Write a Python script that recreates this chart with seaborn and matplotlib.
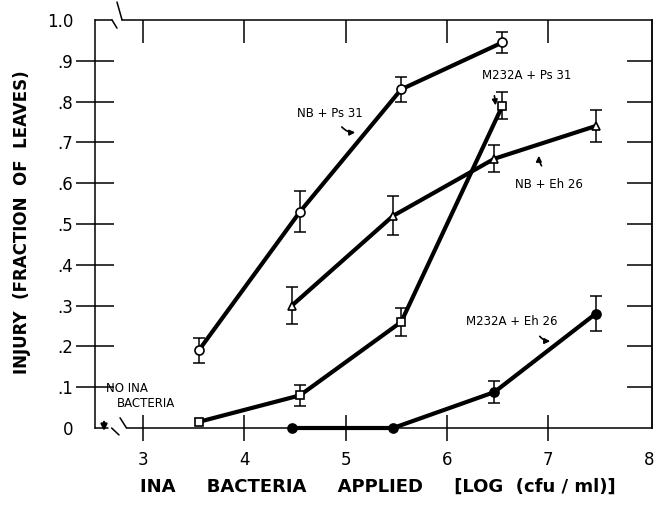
import numpy as np
import pandas as pd
import matplotlib
matplotlib.use("Agg")
import matplotlib.pyplot as plt
import seaborn as sns

# ---- data ----
x_ps31 = [3.55, 4.55, 5.55, 6.55]
x_eh26 = [4.47, 5.47, 6.47, 7.47]
nb_ps31 = [0.19, 0.53, 0.83, 0.945]
nb_ps31_err = [0.03, 0.05, 0.03, 0.025]
m232a_ps31 = [0.015, 0.08, 0.26, 0.79]
m232a_ps31_err = [0.0, 0.025, 0.035, 0.033]
nb_eh26 = [0.30, 0.52, 0.66, 0.74]
nb_eh26_err = [0.045, 0.048, 0.033, 0.04]
m232a_eh26 = [0.0, 0.0, 0.088, 0.28]
m232a_eh26_err = [0.0, 0.0, 0.027, 0.043]
x_ticks = [3, 4, 5, 6, 7, 8]
y_ticks = [0, 0.1, 0.2, 0.3, 0.4, 0.5, 0.6, 0.7, 0.8, 0.9, 1.0]
y_ticklabels = ['0', '.1', '.2', '.3', '.4', '.5', '.6', '.7', '.8', '.9', '1.0']

sns.set_theme(style="white")
plt.rcParams['font.family'] = ['DejaVu Sans']
plt.rcParams['text.color'] = 'black'
plt.rcParams['axes.labelcolor'] = 'black'
plt.rcParams['xtick.color'] = 'black'
plt.rcParams['ytick.color'] = 'black'

fig = plt.figure(figsize=(6.58, 5.14), dpi=100)
ax = fig.add_axes([0.1444, 0.1673, 0.8465, 0.7938])

series = [
    (x_ps31, nb_ps31, nb_ps31_err, 'o', 'white', 6.5),
    (x_ps31, m232a_ps31, m232a_ps31_err, 's', 'white', 5.5),
    (x_eh26, nb_eh26, nb_eh26_err, '^', 'white', 6.0),
    (x_eh26, m232a_eh26, m232a_eh26_err, 'o', 'black', 6.5),
]
for xs, ys, es, mk, fc, ms in series:
    df = pd.DataFrame({'x': xs, 'y': ys})
    sns.lineplot(data=df, x='x', y='y', color='black', lw=3.0, ax=ax,
                 estimator=None, sort=False, clip_on=False, zorder=3)
    xe = [a for a, e in zip(xs, es) if e > 0]
    ye = [b for b, e in zip(ys, es) if e > 0]
    ee = [e for e in es if e > 0]
    ax.errorbar(xe, ye, yerr=ee, fmt='none', ecolor='black', elinewidth=1.1,
                capsize=4.3, capthick=1.1, zorder=4)
    ax.plot(xs, ys, ls='none', marker=mk, ms=ms, mfc=fc, mec='black',
            mew=1.2, zorder=5, clip_on=False)

ax.set_xlim(2.526, 8.027)
ax.set_ylim(0, 1.0)
ax.set_xlabel('')
ax.set_ylabel('')

for s in ['top', 'bottom']:
    ax.spines[s].set_visible(False)
for s in ['left', 'right']:
    ax.spines[s].set_visible(True)
    ax.spines[s].set_color('black')
    ax.spines[s].set_linewidth(1.1)

ax.set_yticks(y_ticks)
ax.set_yticklabels(y_ticklabels, fontsize=12)
ax.tick_params(axis='y', direction='inout', length=27, width=1.1,
               left=True, right=False, pad=2, colors='black')
yt = ax.yaxis.get_major_ticks()
yt[0].tick1line.set_visible(False)
yt[-1].tick1line.set_visible(False)

ax.set_xticks(x_ticks)
ax.set_xticklabels([str(t) for t in x_ticks], fontsize=12)
ax.tick_params(axis='x', direction='inout', length=19, width=1.1,
               bottom=True, top=False, pad=7, colors='black')
ax.xaxis.get_major_ticks()[-1].tick1line.set_visible(False)

sec_r = ax.secondary_yaxis('right')
sec_r.set_yticks(y_ticks[1:-1])
sec_r.set_yticklabels([])
sec_r.tick_params(direction='in', length=18, width=1.1, colors='black')
sec_r.spines['right'].set_linewidth(1.1)

sec_t = ax.secondary_xaxis('top')
sec_t.set_xticks(x_ticks[:-1])
sec_t.set_xticklabels([])
sec_t.tick_params(direction='in', length=16.5, width=1.1, colors='black')
sec_t.spines['top'].set_visible(False)

# custom broken top and bottom axis lines
kw = dict(color='black', lw=1.1, clip_on=False, zorder=2)
ax.plot([2.526, 2.694], [1.0, 1.0], **kw)
ax.plot([2.694, 2.743], [1.0, 0.980], **kw)
ax.plot([2.743, 2.793], [1.044, 1.0], **kw)
ax.plot([2.793, 8.027], [1.0, 1.0], **kw)
ax.plot([2.526, 2.65], [0, 0], **kw)
ax.plot([2.69, 2.763], [0.0, -0.017], **kw)
ax.plot([2.773, 2.837], [0.025, 0.0], **kw)
ax.plot([2.837, 8.027], [0, 0], **kw)
ax.annotate('', xy=(2.615, -0.014), xytext=(2.615, 0.022),
            arrowprops=dict(arrowstyle='-|>', lw=1.6, color='black',
                            mutation_scale=9), annotation_clip=False)

# annotations
tkw = dict(fontsize=8.5, color='black', ha='center', va='center')
akw = dict(arrowstyle='-|>', lw=1.2, color='black', mutation_scale=8)
ax.text(4.847, 0.772, 'NB + Ps 31', **tkw)
ax.annotate('', xy=(5.123, 0.725), xytext=(4.946, 0.743),
            arrowprops=dict(connectionstyle='arc3,rad=0.3', **akw))
ax.text(6.793, 0.863, 'M232A + Ps 31', **tkw)
ax.annotate('', xy=(6.486, 0.784), xytext=(6.467, 0.821),
            arrowprops=dict(connectionstyle='arc3,rad=0.0', **akw))
ax.text(7.01, 0.596, 'NB + Eh 26', **tkw)
ax.annotate('', xy=(6.911, 0.674), xytext=(6.951, 0.637),
            arrowprops=dict(connectionstyle='arc3,rad=-0.2', **akw))
ax.text(6.644, 0.262, 'M232A + Eh 26', **tkw)
ax.annotate('', xy=(7.049, 0.213), xytext=(6.901, 0.230),
            arrowprops=dict(connectionstyle='arc3,rad=0.3', **akw))
ax.text(2.635, 0.098, 'NO INA', fontsize=8.5, ha='left', va='center')
ax.text(2.743, 0.061, 'BACTERIA', fontsize=8.5, ha='left', va='center')

fig.text(378 / 658, 1 - 487 / 514,
         'INA     BACTERIA     APPLIED     [LOG  (cfu / ml)]',
         fontsize=13, fontweight='bold', ha='center', va='center')
fig.text(22 / 658, 1 - 222 / 514, 'INJURY  (FRACTION  OF  LEAVES)',
         fontsize=12, fontweight='bold', ha='center', va='center',
         rotation=90)

fig.savefig('out.png', dpi=100)
